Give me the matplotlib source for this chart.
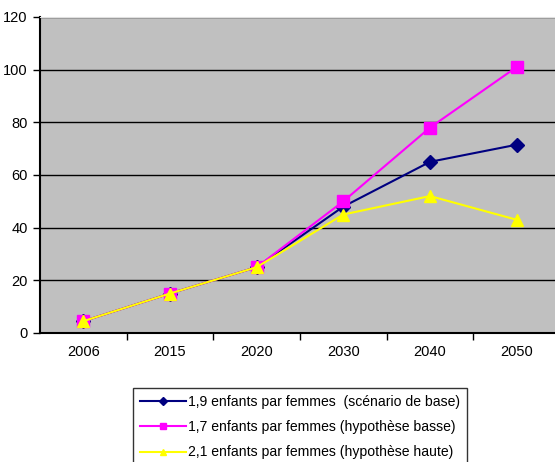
import matplotlib
matplotlib.use("Agg")
import matplotlib.pyplot as plt

years = ["2006", "2015", "2020", "2030", "2040", "2050"]
base = [4.5, 15, 25, 48, 65, 71.5]
basse = [4.5, 15, 25, 50, 78, 101]
haute = [4.5, 15, 25, 45, 52, 43]
labels = ["1,9 enfants par femmes  (scénario de base)",
          "1,7 enfants par femmes (hypothèse basse)",
          "2,1 enfants par femmes (hypothèse haute)"]

plt.rcParams['font.family'] = ['Liberation Sans', 'DejaVu Sans']
fig = plt.figure(figsize=(5.55, 4.62), dpi=100)
W, H = 555, 462
ax = fig.add_axes([40 / W, (H - 333) / H, 520 / W, 316 / H])
ax.set_facecolor('#C0C0C0')

x = list(range(len(years)))
ax.plot(x, base, color='#000080', marker='D', markersize=7, lw=1.5, label=labels[0], zorder=3)
ax.plot(x, basse, color='#FF00FF', marker='s', markersize=8, lw=1.5, label=labels[1], zorder=3)
ax.plot(x, haute, color='#FFFF00', marker='^', markersize=9, lw=1.5, label=labels[2], zorder=3)

ax.set_xlim(-0.5, len(years) - 0.5)
ax.set_ylim(0, 120)
ax.set_yticks(range(0, 121, 20))
ax.yaxis.grid(True, color='black', lw=1)
ax.set_axisbelow(True)
ax.set_xticks(x)
ax.set_xticklabels(years)
ax.set_xticks([i + 0.5 for i in range(len(years) - 1)], minor=True)
ax.tick_params(axis='x', which='major', length=0, pad=9, labelsize=10.5)
ax.tick_params(axis='x', which='minor', length=5, direction='out', width=1)
ax.tick_params(axis='y', length=5, direction='out', labelsize=10.5, width=1, pad=4)
for s in ['top', 'right']:
    ax.spines[s].set_visible(False)
for s in ['left', 'bottom']:
    ax.spines[s].set_linewidth(1.5)
ax.spines['top'].set_visible(True)
ax.spines['top'].set_color('#E0E0E0')

leg = fig.legend(loc='upper left', bbox_to_anchor=(133 / W, 1 - 388 / H),
                 fontsize=10.1, frameon=True, fancybox=False, edgecolor='black',
                 handlelength=3.3, handletextpad=0.15, borderpad=0.5,
                 labelspacing=0.8, borderaxespad=0)
leg.get_frame().set_linewidth(1)
for h in leg.legend_handles:
    h.set_markersize(4.5)

fig.savefig('out.png', dpi=100)
